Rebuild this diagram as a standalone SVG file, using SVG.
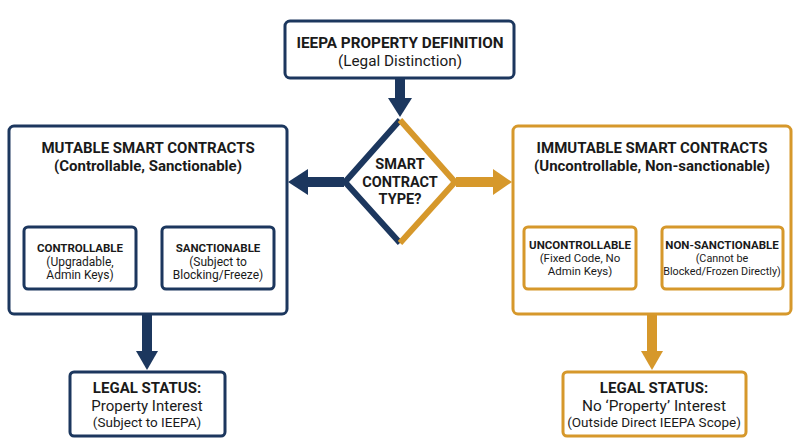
<svg xmlns="http://www.w3.org/2000/svg" width="800" height="447" viewBox="0 0 800 447">
<style>
.bg{fill:#ffffff}
.nv{fill:#ffffff;stroke:#1c375e;stroke-width:3}
.gd{fill:#ffffff;stroke:#d6982b;stroke-width:3}
.nvs{fill:#ffffff;stroke:#1c375e;stroke-width:3}
.gds{fill:#ffffff;stroke:#d6982b;stroke-width:3}
text{font-family:Roboto,"Liberation Sans",Arial,sans-serif;fill:#1a1a1a;text-anchor:middle}
.b{font-weight:bold}
.fn{fill:#1c375e}
.fg{fill:#d6982b}
</style>
<rect class="bg" x="0" y="0" width="800" height="447"/>
<g id="connectors">
  <rect class="fn" x="395" y="78" width="10" height="21"/>
  <polygon class="fn" points="388,98 412,98 400,117"/>
  <rect class="fn" x="306" y="177" width="38" height="10"/>
  <polygon class="fn" points="308,169 308,195 288,182"/>
  <rect class="fg" x="456" y="177" width="39" height="10"/>
  <polygon class="fg" points="493,169 493,195 512,182"/>
  <rect class="fn" x="136" y="254" width="14" height="5"/>
  <polygon class="fn" points="148,250 148,264 161,257"/>
  <rect class="fg" x="636" y="254" width="14" height="5"/>
  <polygon class="fg" points="648,250 648,264 661,257"/>
  <rect class="fn" x="142" y="315" width="10" height="38"/>
  <polygon class="fn" points="136,351 158,351 147,370"/>
  <rect class="fg" x="647" y="315" width="10" height="37"/>
  <polygon class="fg" points="641,351 663,351 652,370"/>
</g>
<g id="top">
  <rect class="nv" x="285" y="21" width="229" height="57" rx="5"/>
  <text class="b" x="400" y="48" font-size="15.3">IEEPA PROPERTY DEFINITION</text>
  <text x="400" y="66" font-size="15.3">(Legal Distinction)</text>
</g>
<g id="decision">
  <polygon points="400,120 455,182 400,243 345,182" fill="#ffffff"/>
  <polyline points="400,120 345,182 400,243" fill="none" stroke="#1c375e" stroke-width="6" stroke-linejoin="miter"/>
  <polyline points="400,120 455,182 400,243" fill="none" stroke="#d6982b" stroke-width="6" stroke-linejoin="miter"/>
  <text class="b" x="400" y="169" font-size="14.5">SMART</text>
  <text class="b" x="400" y="187" font-size="14.5">CONTRACT</text>
  <text class="b" x="400" y="204" font-size="14.5">TYPE?</text>
</g>
<g id="mutable">
  <rect class="nv" x="9" y="126" width="278" height="188" rx="5"/>
  <text class="b" x="148" y="153" font-size="15">MUTABLE SMART CONTRACTS</text>
  <text class="b" x="148" y="171" font-size="15">(Controllable, Sanctionable)</text>
</g>
<g id="controllable">
  <rect class="nvs" x="24" y="227" width="112" height="62" rx="4"/>
  <text class="b" x="80" y="252" font-size="11.5">CONTROLLABLE</text>
  <text x="80" y="266" font-size="12">(Upgradable,</text>
  <text x="80" y="279" font-size="12">Admin Keys)</text>
</g>
<g id="sanctionable">
  <rect class="nvs" x="162" y="227" width="112" height="62" rx="4"/>
  <text class="b" x="218" y="252" font-size="11.5">SANCTIONABLE</text>
  <text x="218" y="266" font-size="12">(Subject to</text>
  <text x="218" y="279" font-size="12">Blocking/Freeze)</text>
</g>
<g id="immutable">
  <rect class="gd" x="513" y="126" width="278" height="188" rx="5"/>
  <text class="b" x="652" y="153" font-size="15">IMMUTABLE SMART CONTRACTS</text>
  <text class="b" x="652" y="171" font-size="15">(Uncontrollable, Non-sanctionable)</text>
</g>
<g id="uncontrollable">
  <rect class="gds" x="524" y="227" width="112" height="62" rx="4"/>
  <text class="b" x="580" y="249" font-size="11.5">UNCONTROLLABLE</text>
  <text x="580" y="262" font-size="11.5">(Fixed Code, No</text>
  <text x="580" y="275" font-size="11.5">Admin Keys)</text>
</g>
<g id="nonsanctionable">
  <rect class="gds" x="662" y="227" width="121" height="62" rx="4"/>
  <text class="b" x="722" y="249" font-size="11.5">NON-SANCTIONABLE</text>
  <text x="722" y="262" font-size="10.8">(Cannot be</text>
  <text x="722" y="275" font-size="10.8">Blocked/Frozen Directly)</text>
</g>
<g id="legal-left">
  <rect class="nv" x="70" y="372" width="155" height="64" rx="4"/>
  <text class="b" x="147" y="393" font-size="15">LEGAL STATUS:</text>
  <text x="147" y="411" font-size="15">Property Interest</text>
  <text x="147" y="427" font-size="13.5">(Subject to IEEPA)</text>
</g>
<g id="legal-right">
  <rect class="gd" x="563" y="372" width="183" height="64" rx="4"/>
  <text class="b" x="654" y="393" font-size="15">LEGAL STATUS:</text>
  <text x="654" y="411" font-size="15.4">No ‘Property’ Interest</text>
  <text x="654" y="427" font-size="13.5">(Outside Direct IEEPA Scope)</text>
</g>
</svg>
